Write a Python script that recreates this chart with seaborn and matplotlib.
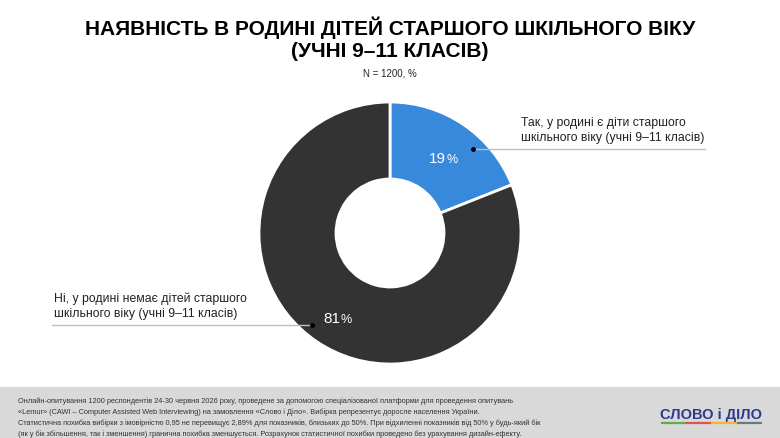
import matplotlib
matplotlib.use("Agg")
import matplotlib.pyplot as plt
import seaborn as sns

# ---- data ----
categories = ["Так, у родині є діти старшого\nшкільного віку (учні 9–11 класів)",
              "Ні, у родині немає дітей старшого\nшкільного віку (учні 9–11 класів)"]
values = [19, 81]
value_labels = ["19", "81"]
title_lines = ["НАЯВНІСТЬ В РОДИНІ ДІТЕЙ СТАРШОГО ШКІЛЬНОГО ВІКУ", "(УЧНІ 9–11 КЛАСІВ)"]
subtitle = "N = 1200, %"
footer_lines = [
    "Онлайн-опитування 1200 респондентів 24-30 червня 2026 року, проведене за допомогою спеціалізованої платформи для проведення опитувань",
    "«Lemur» (CAWI – Computer Assisted Web Interviewing) на замовлення «Слово і Діло». Вибірка репрезентує доросле населення України.",
    "Статистична похибка вибірки з імовірністю 0,95 не перевищує 2,89% для показників, близьких до 50%. При відхиленні показників від 50% у будь-який бік",
    "(як у бік збільшення, так і зменшення) гранична похибка зменшується. Розрахунок статистичної похибки проведено без урахування дизайн-ефекту.",
]
logo_text = "СЛОВО і ДІЛО"

sns.set_theme(style="white")
plt.rcParams['font.family'] = ['Liberation Sans', 'DejaVu Sans']

colors = ["#3889DB", "#333333"]

W, H = 780, 439
fig = plt.figure(figsize=(7.8, 4.39), dpi=100)
ax = fig.add_axes([0, 0, 1, 1])

def Y(y):
    return H - y

cx, cy, R, r = 390, 234, 131, 54
ax.pie(values, colors=colors, startangle=90, counterclock=False,
       center=(cx, Y(cy)), radius=R, frame=True,
       wedgeprops=dict(width=R - r, edgecolor="white", linewidth=2))
ax.set_xlim(0, W)
ax.set_ylim(0, H)
ax.set_aspect("equal")
ax.axis("off")

# value labels
def pct_label(x, y, num):
    t = ax.text(x, Y(y), num, color="white", fontsize=11, ha="right", va="center")
    ax.annotate("%", xy=(1, 0), xycoords=t, xytext=(0.5, 0), textcoords="offset points",
                color="white", fontsize=9, ha="left", va="bottom")

pct_label(446, 159, value_labels[0])
pct_label(340, 319, value_labels[1])

# leader lines and category labels
ax.plot([473, 705], [Y(150), Y(150)], color="#BFBFBF", lw=1, zorder=3)
ax.plot([473], [Y(150)], "o", color="black", ms=2.5, zorder=4)
ax.text(521, Y(130.5), categories[0], fontsize=8.8, color="#222222", ha="left", va="center",
        linespacing=1.35)

ax.plot([52, 312], [Y(326), Y(326)], color="#BFBFBF", lw=1, zorder=3)
ax.plot([312], [Y(326)], "o", color="black", ms=2.5, zorder=4)
ax.text(54, Y(306), categories[1], fontsize=8.8, color="#222222", ha="left", va="center",
        linespacing=1.35)

# title
ax.text(390, Y(28), title_lines[0], fontsize=15, fontweight="bold", ha="center", va="center", color="black")
ax.text(390, Y(51), title_lines[1], fontsize=15, fontweight="bold", ha="center", va="center", color="black")
ax.text(390, Y(73), subtitle, fontsize=7, ha="center", va="center", color="#222222")

# footer band
ax.add_patch(plt.Rectangle((0, 0), W, Y(388), color="#D9D9D9", zorder=1, lw=0))
for i, line in enumerate(footer_lines):
    ax.text(18, Y(401 + i * 11), line, fontsize=5.3, ha="left", va="center", color="#333333", zorder=2)

# logo
ax.text(711, Y(415), logo_text, fontsize=10.5, fontweight="bold", ha="center", va="center",
        color="#2B3A8C", zorder=2)
seg_cols = ["#5BB04C", "#E2544B", "#F2B632", "#6E7582"]
x0, seg = 661, 25.2
for i, c in enumerate(seg_cols):
    ax.plot([x0 + i * seg, x0 + (i + 1) * seg], [Y(423.5), Y(423.5)], color=c, lw=1.6,
            solid_capstyle="butt", zorder=2)

fig.savefig("out.png", dpi=100)
